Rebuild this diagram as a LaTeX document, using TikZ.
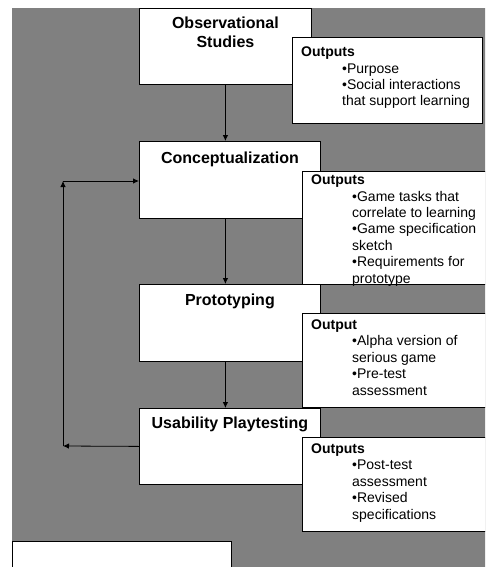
\documentclass[tikz,border=0pt]{standalone}
\usepackage{fontspec}
\setmainfont{Liberation Sans}
\usepackage{tikz}
\usetikzlibrary{arrows.meta, positioning}
\definecolor{bggray}{RGB}{128,128,128}
\newcommand{\indt}{\hspace*{41pt}}

\begin{document}
\begin{tikzpicture}[x=1pt, y=-1pt,
    stagebox/.style={draw, fill=white, line width=0.8pt, anchor=north west, inner sep=0pt},
    outbox/.style={draw, fill=white, line width=0.8pt, anchor=north west, inner sep=0pt},
    stagetitle/.style={font=\bfseries\fontsize{16}{19}\selectfont, align=center, anchor=base, inner sep=0pt},
    outtext/.style={font=\fontsize{14}{16.4}\selectfont, align=left, anchor=base west, inner sep=0pt},
    arr/.style={-{Latex[length=6pt, width=5.5pt]}, line width=0.8pt}]
    \useasboundingbox (0,0) rectangle (485,567);
    \clip (0,0) rectangle (485,567);
    \fill[bggray] (12,8) rectangle (490,570);

    % Stages
    \node[stagebox, minimum width=172pt, minimum height=76pt] (obs) at (139,8) {};
    \node[stagebox, minimum width=181pt, minimum height=77pt] (concept) at (139,141) {};
    \node[stagebox, minimum width=181pt, minimum height=77pt] (proto) at (139,284) {};
    \node[stagebox, minimum width=181pt, minimum height=76pt] (usab) at (139,408) {};
    \node[stagebox, minimum width=219pt, minimum height=40pt] (blank) at (12,541) {};

    % base = last line
    \node[stagetitle] (obstitle) at ([yshift=-40pt]obs.north) {Observational\\Studies};
    \node[stagetitle] (concepttitle) at ([yshift=-22pt]concept.north) {Conceptualization};
    \node[stagetitle] (prototitle) at ([yshift=-21pt]proto.north) {Prototyping};
    \node[stagetitle] (usabtitle) at ([yshift=-20pt]usab.north) {Usability Playtesting};

    % Outputs
    \node[outbox, minimum width=190pt, minimum height=86pt] (obsout) at (292,37) {};
    \node[outbox, minimum width=190pt, minimum height=113pt] (conceptout) at (302,171) {};
    \node[outbox, minimum width=190pt, minimum height=94pt] (protoout) at (302,313) {};
    \node[outbox, minimum width=190pt, minimum height=94pt] (usabout) at (302,437) {};

    \node[outtext] (obsouttext) at ([xshift=9pt, yshift=-69pt]obsout.north west)
        {\textbf{Outputs}\\\indt•Purpose\\\indt•Social interactions\\\indt that support learning};
    \node[outtext] (conceptouttext) at ([xshift=9pt, yshift=-112pt]conceptout.north west)
        {\textbf{Outputs}\\\indt•Game tasks that\\\indt correlate to learning\\\indt•Game specification\\\indt sketch\\\indt•Requirements for\\\indt prototype};
    \node[outtext] (protoouttext) at ([xshift=9pt, yshift=-82pt]protoout.north west)
        {\textbf{Output}\\\indt•Alpha version of\\\indt serious game\\\indt•Pre-test\\\indt assessment};
    \node[outtext] (usabouttext) at ([xshift=9pt, yshift=-82pt]usabout.north west)
        {\textbf{Outputs}\\\indt•Post-test\\\indt assessment\\\indt•Revised\\\indt specifications};

    % Flow
    \draw[arr] (obs.south) -- (obs.south |- concept.north);
    \draw[arr] (concept.south -| obs.south) -- (proto.north -| obs.south);
    \draw[arr] (proto.south -| obs.south) -- (usab.north -| obs.south);

    % Feedback loop
    \coordinate (fbbottom) at (63,446);
    \coordinate (fbtop) at (63,181);
    \draw[arr] (usab.west) -- (fbbottom);
    \draw[arr] (fbbottom) -- (fbtop);
    \draw[arr] (fbtop) -- (fbtop -| concept.west);
\end{tikzpicture}
\end{document}
